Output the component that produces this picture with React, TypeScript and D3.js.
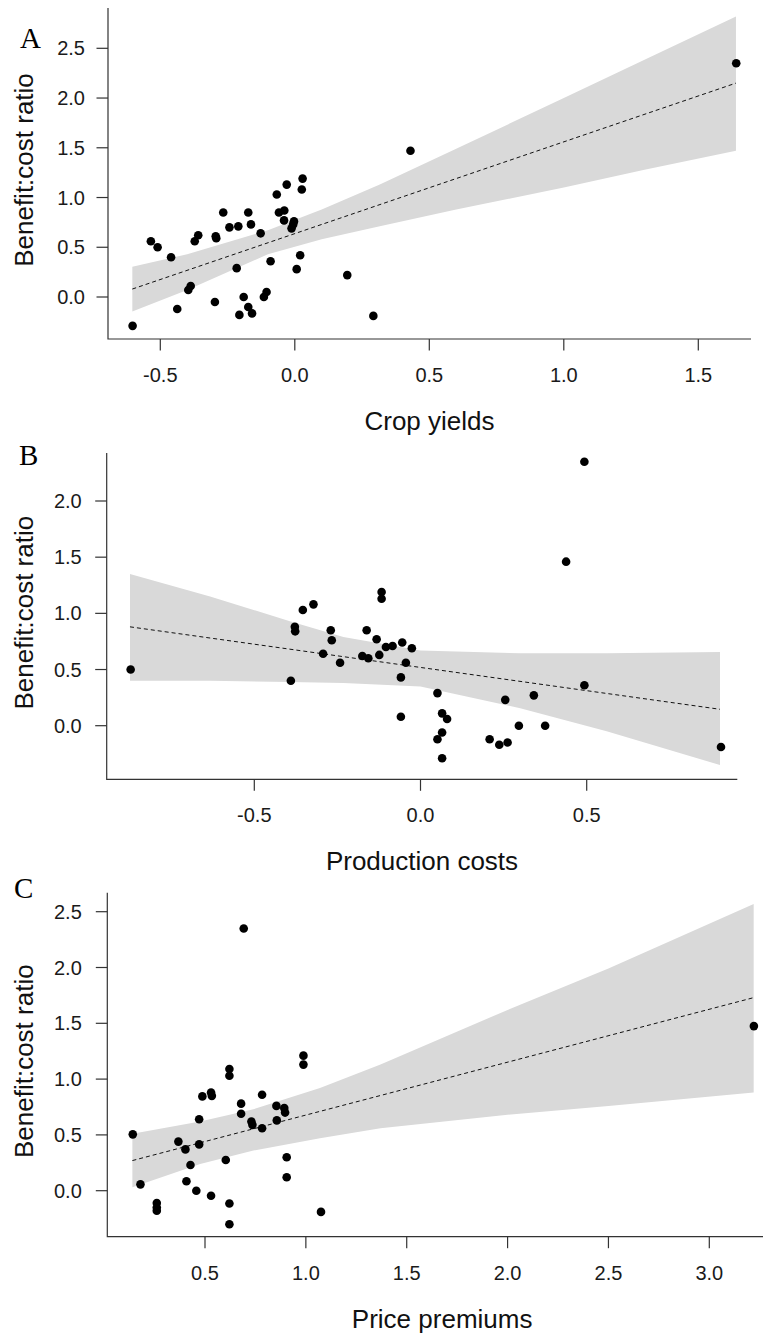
import React from "react";
import * as d3 from "d3";

// ---------- Panel A: Crop yields ----------
const cropX = [-0.603, -0.535, -0.51, -0.46, -0.437, -0.396, -0.387, -0.372, -0.359, -0.297, -0.294, -0.292,
  -0.266, -0.243, -0.216, -0.21, -0.206, -0.19, -0.173, -0.173, -0.163, -0.159, -0.127, -0.115, -0.105,
  -0.09, -0.067, -0.059, -0.039, -0.04, -0.03, -0.012, -0.006, -0.003, 0.007, 0.02, 0.026, 0.029,
  0.195, 0.292, 0.43, 1.641];
const cropY = [-0.29, 0.56, 0.5, 0.4, -0.12, 0.07, 0.11, 0.56, 0.62, -0.05, 0.61, 0.59,
  0.85, 0.7, 0.29, 0.71, -0.18, 0.0, 0.85, -0.1, 0.73, -0.165, 0.64, 0.0, 0.05,
  0.36, 1.03, 0.85, 0.87, 0.77, 1.13, 0.69, 0.73, 0.76, 0.28, 0.42, 1.08, 1.19,
  0.22, -0.19, 1.47, 2.35];
const cropFitX = [-0.604, 1.64];
const cropFitY = [0.08, 2.15];
const cropBandX = [-0.604, -0.4, -0.1, 0.1, 0.316, 0.6, 1.0, 1.3, 1.64];
const cropBandLo = [-0.145, 0.07, 0.43, 0.58, 0.71, 0.88, 1.1, 1.28, 1.47];
const cropBandHi = [0.305, 0.43, 0.67, 0.88, 1.13, 1.49, 2.0, 2.385, 2.82];
const cropXTicks = [-0.5, 0, 0.5, 1.0, 1.5];
const cropYTicks = [0, 0.5, 1.0, 1.5, 2.0, 2.5];

// ---------- Panel B: Production costs ----------
const costX = [-0.872, -0.39, -0.378, -0.377, -0.354, -0.322, -0.293, -0.27, -0.267, -0.242, -0.175,
  -0.162, -0.157, -0.132, -0.124, -0.117, -0.117, -0.104, -0.084, -0.055, -0.026, -0.044, -0.059,
  -0.059, 0.051, 0.065, 0.08, 0.065, 0.051, 0.065, 0.208, 0.237, 0.262, 0.255, 0.296, 0.341,
  0.375, 0.438, 0.493, 0.493, 0.904];
const costY = [0.5, 0.4, 0.88, 0.84, 1.03, 1.08, 0.64, 0.85, 0.76, 0.56, 0.62,
  0.85, 0.6, 0.77, 0.63, 1.19, 1.13, 0.7, 0.71, 0.74, 0.69, 0.56, 0.43,
  0.08, 0.29, 0.11, 0.06, -0.06, -0.12, -0.29, -0.12, -0.17, -0.15, 0.23, 0.0, 0.27,
  0.0, 1.46, 2.35, 0.36, -0.19];
const costFitX = [-0.874, 0.901];
const costFitY = [0.88, 0.146];
const costBandX = [-0.874, -0.633, -0.393, -0.232, 0.0, 0.3, 0.56, 0.901];
const costBandLo = [0.4, 0.4, 0.39, 0.38, 0.35, 0.155, -0.05, -0.35];
const costBandHi = [1.35, 1.15, 0.93, 0.79, 0.67, 0.645, 0.645, 0.655];
const costXTicks = [-0.5, 0, 0.5];
const costYTicks = [0, 0.5, 1.0, 1.5, 2.0];

// ---------- Panel C: Price premiums ----------
const premX = [0.142, 0.18, 0.261, 0.261, 0.261, 0.368, 0.403, 0.408, 0.428, 0.457, 0.471, 0.471,
  0.487, 0.53, 0.534, 0.53, 0.603, 0.621, 0.621, 0.621, 0.621, 0.679, 0.679, 0.692, 0.73, 0.735,
  0.783, 0.783, 0.854, 0.856, 0.893, 0.897, 0.905, 0.905, 0.988, 0.988, 1.075, 3.221];
const premY = [0.505, 0.057, -0.11, -0.15, -0.18, 0.44, 0.37, 0.085, 0.23, 0.0, 0.64, 0.415,
  0.845, 0.88, 0.85, -0.045, 0.275, 1.09, 1.03, -0.115, -0.3, 0.78, 0.69, 2.35, 0.62, 0.59,
  0.86, 0.56, 0.76, 0.63, 0.74, 0.7, 0.3, 0.12, 1.21, 1.13, -0.19, 1.475];
const premFitX = [0.14, 3.22];
const premFitY = [0.27, 1.73];
const premBandX = [0.14, 0.476, 0.74, 1.07, 1.37, 2.0, 2.5, 3.22];
const premBandLo = [0.03, 0.24, 0.36, 0.47, 0.56, 0.68, 0.76, 0.88];
const premBandHi = [0.51, 0.62, 0.73, 0.92, 1.13, 1.62, 1.99, 2.57];
const premXTicks = [0.5, 1.0, 1.5, 2.0, 2.5, 3.0];
const premYTicks = [0, 0.5, 1.0, 1.5, 2.0, 2.5];

const yTitle = "Benefit:cost ratio";

type PanelProps = {
  letter: string;
  xTitle: string;
  xs: number[];
  ys: number[];
  fitX: number[];
  fitY: number[];
  bandX: number[];
  bandLo: number[];
  bandHi: number[];
  xTicks: number[];
  yTicks: number[];
  xDom: [number, number];
  xRange: [number, number];
  yDom: [number, number];
  yRange: [number, number];
  box: { left: number; right: number; top: number; bottom: number };
  yLabelGap: number;
  letterPos: [number, number];
};

const fmt1 = d3.format(".1f");
const fmt = (v: number) => fmt1(v).replace("\u2212", "-");
const SANS = "'Liberation Sans', Arial, Helvetica, sans-serif";
const SERIF = "'Liberation Serif', 'Times New Roman', Times, serif";

function Panel(p: PanelProps) {
  const x = d3.scaleLinear().domain(p.xDom).range(p.xRange);
  const y = d3.scaleLinear().domain(p.yDom).range(p.yRange);
  const band = d3
    .area<number>()
    .x((_, i) => x(p.bandX[i]))
    .y0((_, i) => y(p.bandLo[i]))
    .y1((_, i) => y(p.bandHi[i]));
  const line = d3
    .line<number>()
    .x((_, i) => x(p.fitX[i]))
    .y((_, i) => y(p.fitY[i]));
  const { left, right, top, bottom } = p.box;
  const tickLen = 11.5;
  return (
    <g>
      <path d={band(p.bandX) || ""} fill="#d9d9d9" stroke="none" />
      <path d={line(p.fitX) || ""} fill="none" stroke="#111" strokeWidth={1} strokeDasharray="4 3" />
      {p.xs.map((v, i) => (
        <circle key={i} cx={x(v)} cy={y(p.ys[i])} r={4.3} fill="#000" />
      ))}
      <path d={`M${left},${top}V${bottom}H${right}`} fill="none" stroke="#333" strokeWidth={1.2} />
      {p.yTicks.map((t) => (
        <g key={"y" + t}>
          <line x1={left - tickLen} x2={left} y1={y(t)} y2={y(t)} stroke="#333" strokeWidth={1.2} />
          <text
            x={left - p.yLabelGap}
            y={y(t) + 7}
            textAnchor="end"
            fontFamily={SANS}
            fontSize={20}
            fill="#1a1a1a"
          >
            {fmt(t)}
          </text>
        </g>
      ))}
      {p.xTicks.map((t) => (
        <g key={"x" + t}>
          <line x1={x(t)} x2={x(t)} y1={bottom} y2={bottom + tickLen} stroke="#333" strokeWidth={1.2} />
          <text
            x={x(t)}
            y={bottom + 43}
            textAnchor="middle"
            fontFamily={SANS}
            fontSize={20}
            fill="#1a1a1a"
          >
            {fmt(t)}
          </text>
        </g>
      ))}
      <text
        x={(left + right) / 2}
        y={bottom + 91}
        textAnchor="middle"
        fontFamily={SANS}
        fontSize={26}
        fill="#111"
      >
        {p.xTitle}
      </text>
      <text
        transform={`translate(33,${(top + bottom) / 2 - 3.5}) rotate(-90)`}
        textAnchor="middle"
        fontFamily={SANS}
        fontSize={26}
        fill="#111"
      >
        {yTitle}
      </text>
      <text x={p.letterPos[0]} y={p.letterPos[1]} fontFamily={SERIF} fontSize={29} fill="#000">
        {p.letter}
      </text>
    </g>
  );
}

export default function App() {
  return (
    <svg
      width={763}
      height={1338}
      viewBox="0 0 763 1338"
      style={{ position: "absolute", left: 0, top: 0, background: "#fff" }}
    >
      <rect x={0} y={0} width={763} height={1338} fill="#fff" />
      <Panel
        letter="A"
        xTitle="Crop yields"
        xs={cropX}
        ys={cropY}
        fitX={cropFitX}
        fitY={cropFitY}
        bandX={cropBandX}
        bandLo={cropBandLo}
        bandHi={cropBandHi}
        xTicks={cropXTicks}
        yTicks={cropYTicks}
        xDom={[-0.5, 1.5]}
        xRange={[160.3, 698.3]}
        yDom={[0, 2.5]}
        yRange={[297, 48.3]}
        box={{ left: 108, right: 751, top: 8, bottom: 339 }}
        yLabelGap={23}
        letterPos={[20, 48]}
      />
      <Panel
        letter="B"
        xTitle="Production costs"
        xs={costX}
        ys={costY}
        fitX={costFitX}
        fitY={costFitY}
        bandX={costBandX}
        bandLo={costBandLo}
        bandHi={costBandHi}
        xTicks={costXTicks}
        yTicks={costYTicks}
        xDom={[-0.5, 0.5]}
        xRange={[254.3, 586.7]}
        yDom={[0, 2]}
        yRange={[725.7, 501]}
        box={{ left: 106.7, right: 737.3, top: 453, bottom: 779.3 }}
        yLabelGap={25}
        letterPos={[19, 465]}
      />
      <Panel
        letter="C"
        xTitle="Price premiums"
        xs={premX}
        ys={premY}
        fitX={premFitX}
        fitY={premFitY}
        bandX={premBandX}
        bandLo={premBandLo}
        bandHi={premBandHi}
        xTicks={premXTicks}
        yTicks={premYTicks}
        xDom={[0.5, 3.0]}
        xRange={[205, 709.3]}
        yDom={[0, 2.5]}
        yRange={[1190.7, 911.7]}
        box={{ left: 107.3, right: 777, top: 892.7, bottom: 1236.7 }}
        yLabelGap={25.5}
        letterPos={[14, 898]}
      />
    </svg>
  );
}
